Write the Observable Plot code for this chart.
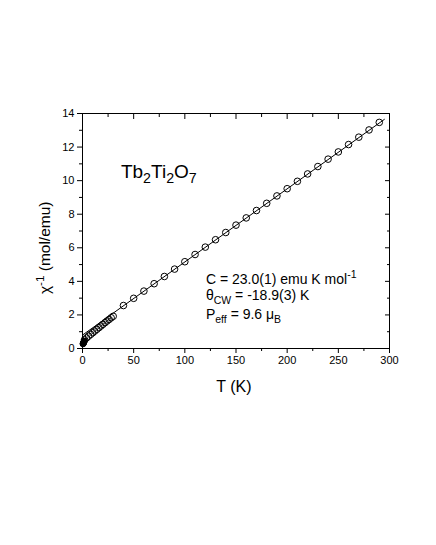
<!DOCTYPE html>
<html>
<head>
<meta charset="utf-8">
<script src="https://cdn.jsdelivr.net/npm/d3@7"></script>
<script src="https://cdn.jsdelivr.net/npm/@observablehq/plot@0.6"></script>
<style>
  html, body { margin: 0; padding: 0; background: white; }
  #chart { width: 436px; height: 545px; }
</style>
</head>
<body>
<div id="chart"></div>
<script>
// ---- Data ----
// lowest-temperature points (drawn filled, they overlap into a black blob)
const blobT = [0.5, 0.8, 1.1, 1.4, 1.7];
const blobV = [0.28, 0.31, 0.35, 0.39, 0.44];
// dense low-temperature open circles
const denseT = [2, 4, 6, 8, 10, 12, 14, 16, 18, 20, 22, 24, 26, 28, 30];
const denseV = [0.52, 0.63, 0.74, 0.84, 0.94, 1.04, 1.14, 1.24, 1.34, 1.44, 1.54, 1.64, 1.73, 1.83, 1.92];
// high-temperature open circles
const highT = [40, 50, 60, 70, 80, 90, 100, 110, 120, 130, 140, 150, 160, 170, 180, 190, 200, 210, 220, 230, 240, 250, 260, 270, 280, 290];
const highV = [2.56, 2.99, 3.42, 3.86, 4.29, 4.73, 5.17, 5.60, 6.04, 6.48, 6.91, 7.35, 7.78, 8.22, 8.65, 9.09, 9.52, 9.96, 10.40, 10.84, 11.28, 11.71, 12.15, 12.59, 13.02, 13.47];
// Curie-Weiss fit line
const fitT = [0, 295];
const fitV = [0.80, 13.65];
// ticks
const xMajor = [0, 50, 100, 150, 200, 250, 300];
const xMinor = [25, 75, 125, 175, 225, 275];
const yMajor = [0, 2, 4, 6, 8, 10, 12, 14];
const yMinor = [1, 3, 5, 7, 9, 11, 13];
// texts
const compound = "Tb{_2}Ti{_2}O{_7}";
const fitLines = ["C = 23.0(1) emu K mol{^-1}", "θ{_CW} = -18.9(3) K", "P{_eff} = 9.6 μ{_B}"];
const xLabel = "T (K)";
const yLabel = "χ{^-1} (mol/emu)";

const zip = (a, b) => a.map((t, i) => ({T: t, v: b[i]}));
const blob = zip(blobT, blobV);
const dense = zip(denseT, denseV);
const high = zip(highT, highV);
const fit = zip(fitT, fitV);

const font = "'Liberation Sans', Arial, Helvetica, sans-serif";

const chart = Plot.plot({
  width: 436,
  height: 545,
  marginLeft: 82,
  marginRight: 47,
  marginTop: 113,
  marginBottom: 197,
  x: {domain: [0, 300]},
  y: {domain: [0, 14]},
  style: {fontFamily: font, fontSize: "11px", color: "black", background: "white"},
  marks: [
    Plot.line(fit, {x: "T", y: "v", stroke: "black", strokeWidth: 1}),
    Plot.dot(blob, {x: "T", y: "v", r: 3, fill: "black", stroke: "black", strokeWidth: 1}),
    Plot.dot(dense, {x: "T", y: "v", r: 3.3, fill: "none", stroke: "black", strokeWidth: 1}),
    Plot.dot(high, {x: "T", y: "v", r: 3.3, fill: "none", stroke: "black", strokeWidth: 1}),
    Plot.frame({stroke: "black", strokeWidth: 1}),
    // bottom axis
    Plot.axisX({ticks: xMajor, tickSize: 5, tickPadding: 3, label: null, fontSize: 11}),
    Plot.axisX({ticks: xMinor, tickSize: 3, text: null, label: null}),
    // top (inward)
    Plot.axisX({anchor: "top", ticks: xMajor, tickSize: -5, text: null, label: null}),
    Plot.axisX({anchor: "top", ticks: xMinor, tickSize: -3, text: null, label: null}),
    // left axis
    Plot.axisY({ticks: yMajor, tickSize: 5, tickPadding: 3, label: null, fontSize: 11}),
    Plot.axisY({ticks: yMinor, tickSize: 3, text: null, label: null}),
    // right (inward)
    Plot.axisY({anchor: "right", ticks: yMajor, tickSize: -5, text: null, label: null}),
    Plot.axisY({anchor: "right", ticks: yMinor, tickSize: -3, text: null, label: null}),
    // axis titles
    Plot.text([xLabel], {x: 148, frameAnchor: "bottom", dy: 38, text: d => d, fontSize: 16, lineAnchor: "middle", textAnchor: "middle"}),
    Plot.text([yLabel], {y: 6.0, frameAnchor: "left", dx: -37, text: d => d, fontSize: 15.5, rotate: -90, lineAnchor: "middle", textAnchor: "middle"}),
    // annotations
    Plot.text([compound], {x: 37.5, y: 10.18, text: d => d, fontSize: 19, textAnchor: "start", lineAnchor: "bottom"}),
    Plot.text([fitLines[0]], {x: 120.6, y: 3.87, text: d => d, fontSize: 14, textAnchor: "start", lineAnchor: "bottom"}),
    Plot.text([fitLines[1]], {x: 120.6, y: 2.88, text: d => d, fontSize: 14, textAnchor: "start", lineAnchor: "bottom"}),
    Plot.text([fitLines[2]], {x: 120.6, y: 1.74, text: d => d, fontSize: 14, textAnchor: "start", lineAnchor: "bottom"})
  ]
});

document.getElementById("chart").appendChild(chart);

// Convert {_sub} / {^sup} markup into real SVG tspans
d3.select(chart).selectAll("text").each(function () {
  const s = this.textContent;
  if (!s.includes("{")) return;
  const fs = parseFloat(getComputedStyle(this).fontSize) || 12;
  const t = d3.select(this);
  while (this.firstChild) this.removeChild(this.firstChild);
  const re = /\{([_^])([^}]*)\}|([^{]+)/g;
  let m, cur = 0;
  while ((m = re.exec(s))) {
    let str, tgt, size;
    if (m[3] !== undefined) { str = m[3]; tgt = 0; size = null; }
    else { str = m[2]; tgt = m[1] === "_" ? 0.3 * fs : -0.42 * fs; size = 0.75 * fs; }
    const ts = t.append("tspan").text(str);
    if (size) ts.attr("font-size", size);
    if (tgt - cur !== 0) ts.attr("dy", tgt - cur);
    cur = tgt;
  }
});
</script>
</body>
</html>
